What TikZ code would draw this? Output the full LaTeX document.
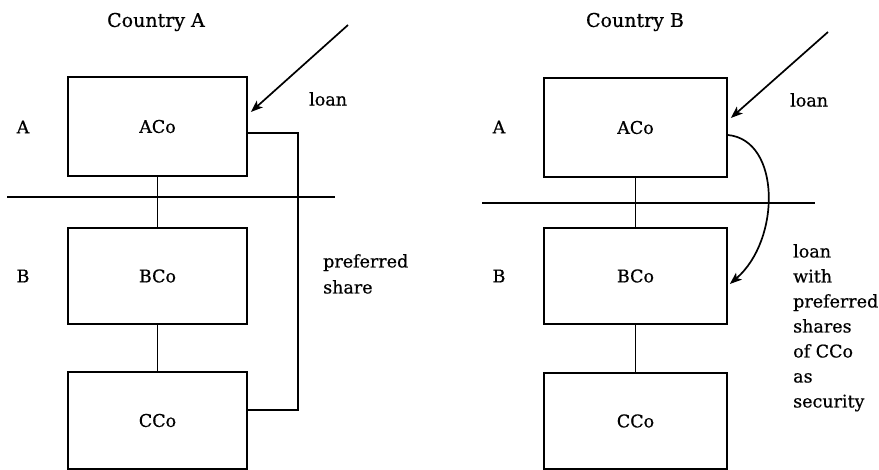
\documentclass[tikz,border=0pt]{standalone}
\usepackage{fontspec}
\setmainfont{DejaVu Serif}[FakeBold=0.6]
\usetikzlibrary{arrows.meta}
\begin{document}
\begin{tikzpicture}[x=1pt,y=-1pt,
  every node/.style={font=\fontsize{17.5}{25}\selectfont},
  title/.style={inner sep=0pt,font=\fontsize{19}{25}\selectfont},
  cobox/.style={draw,line width=1.7pt,minimum width=179pt,inner sep=0pt},
  lbl/.style={inner sep=0pt},
  conn/.style={line width=1.7pt},
  arr/.style={line width=1.7pt,-{Stealth[length=12pt,width=9pt,inset=3pt]}}]
\useasboundingbox (0,0) rectangle (879,470);
% ---------- left panel ----------
\node[title] (tA) at (156,22) {Country A};
\node[cobox,minimum height=99pt] (lA) at (157.5,126.5) {ACo};
\node[cobox,minimum height=96pt] (lB) at (157.5,276) {BCo};
\node[cobox,minimum height=97pt] (lC) at (157.5,420.5) {CCo};
\node[lbl] (la) at (23,127) {A};
\node[lbl] (lb) at (23,276) {B};
\coordinate (lh1) at (7,197);
\coordinate (lh2) at (335,197);
\draw[conn] (lh1) -- (lh2);
\draw[conn] (lA) -- (lB);
\draw[conn] (lB) -- (lC);
\coordinate (lloan) at (348,25);
\draw[arr] (lloan) -- ([shift={(3pt,14.5pt)}]lA.east);
\node[lbl,anchor=west] (lloant) at (309,99) {loan};
\draw[conn] ([yshift=-6.5pt]lA.east) -| (298,410) -- ([yshift=10.5pt]lC.east);
\node[lbl,anchor=north west,align=left,font=\fontsize{17.5}{26}\selectfont] (lpref) at (323,254) {preferred\\share};
% ---------- right panel ----------
\node[title] (tB) at (635,22) {Country B};
\node[cobox,minimum width=183pt,minimum height=99pt] (rA) at (635.5,127.5) {ACo};
\node[cobox,minimum width=183pt,minimum height=96pt] (rB) at (635.5,276) {BCo};
\node[cobox,minimum width=183pt,minimum height=96pt] (rC) at (635.5,421) {CCo};
\node[lbl] (ra) at (499,127) {A};
\node[lbl] (rb) at (499,276) {B};
\coordinate (rh1) at (482,203);
\coordinate (rh2) at (815,203);
\draw[conn] (rh1) -- (rh2);
\draw[conn] (rA) -- (rB);
\draw[conn] (rB) -- (rC);
\coordinate (rloan) at (828,32);
\draw[arr] (rloan) -- ([shift={(3pt,9.5pt)}]rA.east);
\node[lbl,anchor=west] (rloant) at (790,100) {loan};
\draw[arr] ([yshift=-7.5pt]rA.east) .. controls (781,140) and (781,240) .. ([shift={(2pt,-8pt)}]rB.east);
\node[lbl,anchor=north west,align=left] (rsec) at (793,244) {loan\\with\\preferred\\shares\\of CCo\\as\\security};
\end{tikzpicture}
\end{document}
